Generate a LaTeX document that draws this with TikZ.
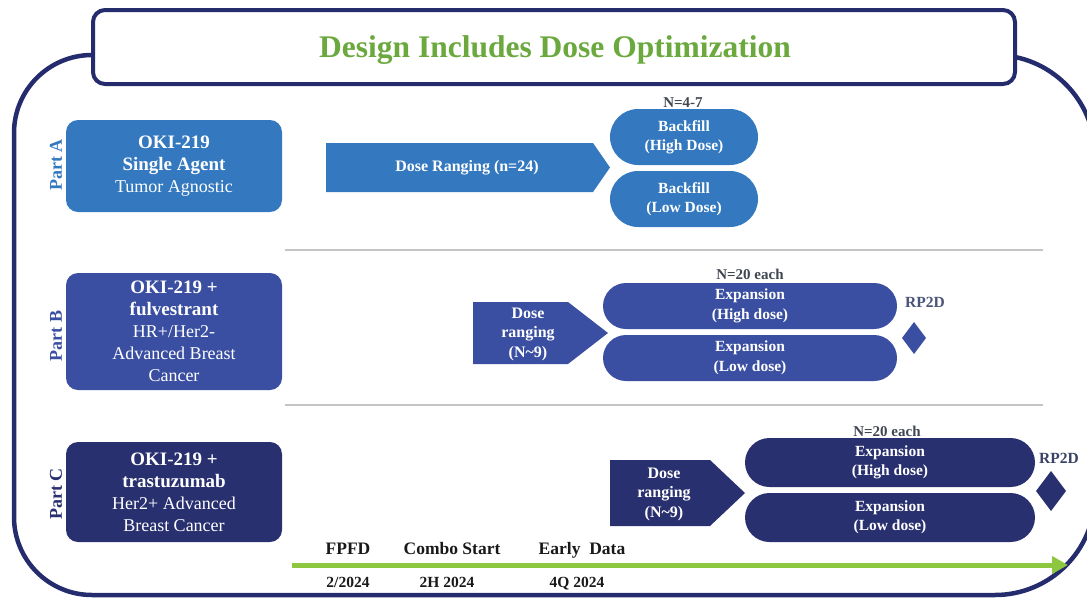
\documentclass[tikz,border=0pt]{standalone}
\usepackage{fontspec}
\setmainfont{Liberation Serif}
\usetikzlibrary{shapes.misc,arrows.meta}
\definecolor{cA}{HTML}{3479BF}
\definecolor{cB}{HTML}{3A4FA1}
\definecolor{cC}{HTML}{29306F}
\definecolor{navy}{HTML}{252C6E}
\definecolor{ttl}{HTML}{6BA93F}
\definecolor{tlg}{HTML}{8DC63F}
\definecolor{ngray}{HTML}{404652}
\definecolor{rpB}{HTML}{4A5478}
\definecolor{rpC}{HTML}{3A4265}
\definecolor{sep}{HTML}{C4C4C4}
\begin{document}
\begin{tikzpicture}[x=1pt,y=-1pt,
  partbox/.style={fill=#1, rounded corners=12pt, text=white, align=center, minimum width=216pt, inner sep=0pt, font=\fontsize{18}{22}\selectfont},
  stadium/.style={rounded rectangle, fill=#1, text=white, align=center, inner sep=0pt, font=\bfseries\fontsize{15.5}{19.5}\selectfont},
  dosetxt/.style={text=white, align=center, inner sep=0pt, font=\bfseries\fontsize{16}{19.5}\selectfont},
  partlbl/.style={text=#1, rotate=90, inner sep=0pt, font=\bfseries\fontsize{18}{20}\selectfont},
  nlbl/.style={text=ngray, anchor=base, inner sep=0pt, font=\bfseries\fontsize{15}{18}\selectfont},
  rplbl/.style={text=#1, anchor=base, inner sep=0pt, font=\bfseries\fontsize{15.5}{18}\selectfont},
  tltop/.style={text=black!90, anchor=base, inner sep=0pt, font=\bfseries\fontsize{17.5}{20}\selectfont},
  tlbot/.style={text=black!90, anchor=base, inner sep=0pt, font=\bfseries\fontsize{15.5}{18}\selectfont},
  sepline/.style={draw=sep, line width=1.5pt},
  framel/.style={draw=navy, line width=4.5pt}
]
\useasboundingbox (0,0) rectangle (1087,598);
% outer frame (left and right halves with different corner radii)
\draw[framel, rounded corners=78pt] (554,55) -- (14,55) -- (14,595) -- (554,595);
\draw[framel, rounded corners=100pt] (554,55) -- (1095,55) -- (1095,595) -- (554,595);
% title box
\draw[navy, fill=white, line width=4pt, rounded corners=12pt] (93,10) rectangle (1015,84);
\node[text=ttl, anchor=base, inner sep=0pt, font=\bfseries\fontsize{31.5}{34}\selectfont] (title) at (555,57) {Design Includes Dose Optimization};

% separators
\draw[sepline] (285,250) -- (1043,250);
\draw[sepline] (285,405) -- (1043,405);

% part boxes
\node[partbox=cA, minimum height=92pt] (pA) at (174,166) {{\bfseries\fontsize{19}{22}\selectfont OKI-219}\\{\bfseries\fontsize{19}{22}\selectfont Single Agent}\\Tumor Agnostic};
\node[partbox=cB, minimum height=117pt] (pB) at (174,331.5) {{\bfseries\fontsize{19}{22}\selectfont OKI-219 +}\\{\bfseries\fontsize{19}{22}\selectfont fulvestrant}\\HR+/Her2-\\Advanced Breast\\Cancer};
\node[partbox=cC, minimum height=100pt] (pC) at (174,492) {{\bfseries\fontsize{19}{22}\selectfont OKI-219 +}\\{\bfseries\fontsize{19}{22}\selectfont trastuzumab}\\Her2+ Advanced\\Breast Cancer};

\node[partlbl=cA] (lA) at (56,165) {Part A};
\node[partlbl=cB] (lB) at (56,336) {Part B};
\node[partlbl=cC] (lC) at (56,494) {Part C};

% Part A
\fill[cA] (326,143) -- (593,143) -- (610,167.5) -- (593,192) -- (326,192) -- cycle;
\node[dosetxt] (dA) at (467,168) {Dose Ranging (n=24)};
\node[stadium=cA, minimum width=148pt, minimum height=56pt] (bfH) at (684,137) {Backfill\\(High Dose)};
\node[stadium=cA, minimum width=148pt, minimum height=56pt] (bfL) at (684,199) {Backfill\\(Low Dose)};
\node[nlbl] (nA) at (683,107) {N=4-7};

% Part B
\fill[cB] (473,302) -- (568,302) -- (608,333) -- (568,364) -- (473,364) -- cycle;
\node[dosetxt] (dB) at (528,334) {Dose\\ranging\\(N\textasciitilde9)};
\node[stadium=cB, minimum width=294pt, minimum height=46pt] (exBH) at (750,306) {Expansion\\(High dose)};
\node[stadium=cB, minimum width=294pt, minimum height=46pt] (exBL) at (750,358) {Expansion\\(Low dose)};
\node[nlbl] (nB) at (750,279) {N=20 each};
\node[rplbl=rpB] (rB) at (925,307) {RP2D};
\fill[cB] (914,322) -- (926,338) -- (914,354) -- (902,338) -- cycle;

% Part C
\fill[cC] (610,460) -- (710,460) -- (745,493) -- (710,526) -- (610,526) -- cycle;
\node[dosetxt] (dC) at (664,494) {Dose\\ranging\\(N\textasciitilde9)};
\node[stadium=cC, minimum width=290pt, minimum height=49pt] (exCH) at (890,462.5) {Expansion\\(High dose)};
\node[stadium=cC, minimum width=290pt, minimum height=49pt] (exCL) at (890,517.5) {Expansion\\(Low dose)};
\node[nlbl] (nC) at (887,436) {N=20 each};
\node[rplbl=rpC] (rC) at (1059,463) {RP2D};
\fill[cC] (1051,471) -- (1066,491) -- (1051,511) -- (1036,491) -- cycle;

% timeline
\coordinate (t0) at (292,565);
\coordinate (t1) at (1068,565);
\draw[tlg, line width=5pt, -{Triangle[length=16pt,width=17pt]}] (t0) -- (t1);
\node[tltop] (m1) at (348,554) {FPFD};
\node[tltop] (m2) at (452,554) {Combo Start};
\node[tltop] (m3) at (582,554) {Early\ \ Data};
\node[tlbot] (d1) at (348,587) {2/2024};
\node[tlbot] (d2) at (447,587) {2H 2024};
\node[tlbot] (d3) at (577,587) {4Q 2024};
\end{tikzpicture}
\end{document}
